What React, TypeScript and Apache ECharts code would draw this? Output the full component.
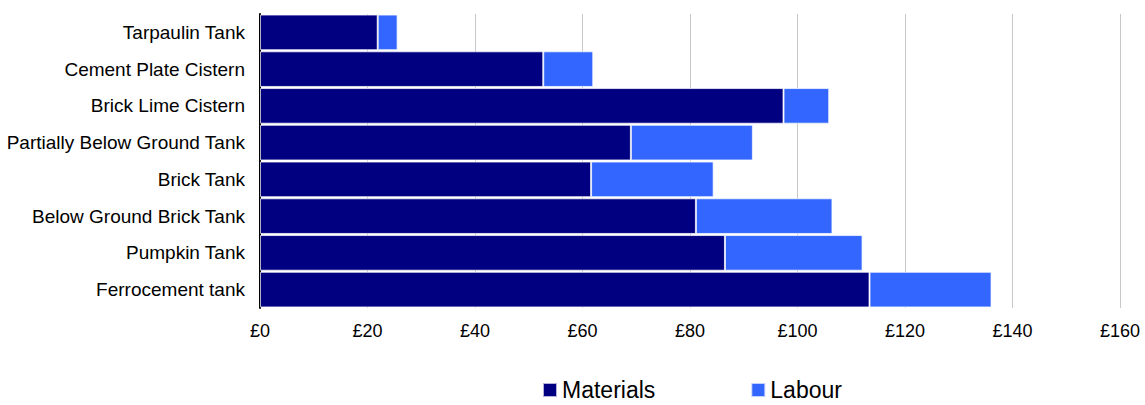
import React, { useEffect, useRef } from "react";
import * as echarts from "echarts";

const categories = [
  "Tarpaulin Tank",
  "Cement Plate Cistern",
  "Brick Lime Cistern",
  "Partially Below Ground Tank",
  "Brick Tank",
  "Below Ground Brick Tank",
  "Pumpkin Tank",
  "Ferrocement tank",
];
const materials = [21.9, 52.7, 97.4, 69.0, 61.6, 81.1, 86.5, 113.4];
const labour = [3.7, 9.3, 8.5, 22.7, 22.8, 25.4, 25.6, 22.7];
const seriesNames = ["Materials", "Labour"];
const colors = ["#000080", "#3366FF"];

const FONT = "'Liberation Sans', Arial, sans-serif";

export default function App() {
  const ref = useRef<HTMLDivElement>(null);
  useEffect(() => {
    if (!ref.current) return;
    const chart = echarts.init(ref.current, null, { renderer: "svg" });
    chart.setOption({
      animation: false,
      textStyle: { fontFamily: FONT },
      grid: { left: 260, right: 25, top: 14, height: 294, containLabel: false },
      legend: {
        data: seriesNames,
        left: 537,
        top: 373,
        itemWidth: 14,
        itemHeight: 14,
        itemGap: 95,
        icon: "rect",
        textStyle: { fontSize: 23, lineHeight: 24, color: "#000", fontFamily: FONT },
      },
      xAxis: {
        type: "value",
        min: 0,
        max: 160,
        interval: 20,
        axisLine: { show: false },
        axisTick: { show: false },
        axisLabel: {
          formatter: "£{value}",
          fontSize: 18,
          color: "#000",
          margin: 14,
          fontFamily: FONT,
        },
        splitLine: { show: true, lineStyle: { color: "#c8c8c8", width: 1 } },
      },
      yAxis: {
        type: "category",
        data: categories,
        inverse: true,
        axisLine: { show: true, lineStyle: { color: "#000", width: 2 } },
        axisTick: { show: false },
        axisLabel: { fontSize: 19, color: "#000", margin: 15, fontFamily: FONT },
        splitLine: { show: false },
      },
      series: [
        {
          name: seriesNames[0],
          type: "bar",
          stack: "total",
          data: materials,
          barCategoryGap: "3%",
          itemStyle: { color: colors[0], borderColor: "rgba(255,255,255,0.7)", borderWidth: 1 },
        },
        {
          name: seriesNames[1],
          type: "bar",
          stack: "total",
          data: labour,
          barCategoryGap: "3%",
          itemStyle: { color: colors[1], borderColor: "rgba(255,255,255,0.7)", borderWidth: 1 },
        },
      ],
    });
    return () => chart.dispose();
  }, []);
  return (
    <div
      ref={ref}
      style={{ position: "fixed", left: 0, top: 0, width: 1145, height: 405, background: "#fff" }}
    />
  );
}
